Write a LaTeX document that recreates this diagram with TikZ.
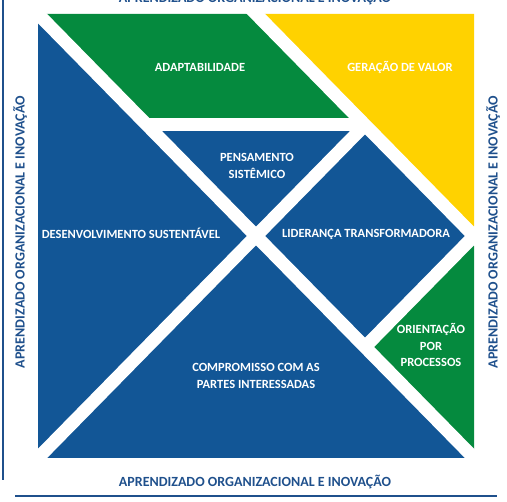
\documentclass[tikz,border=0pt]{standalone}
\usepackage{fontspec}
\setmainfont{Carlito}
\definecolor{fnqblue}{RGB}{18,86,150}
\definecolor{fnqgreen}{RGB}{5,138,62}
\definecolor{fnqyellow}{RGB}{255,210,0}
\definecolor{sideblue}{RGB}{31,80,140}

\begin{document}
\begin{tikzpicture}[x=1pt,y=1pt,
        cut/.style={white,line width=13pt},
        lbl/.style={white,align=center,font=\bfseries\fontsize{12.5}{16.5}\selectfont},
        side/.style={text=sideblue,font=\bfseries\fontsize{14}{16}\selectfont},
        frame/.style={sideblue,line width=1.2pt}]
            \useasboundingbox (0,0) rectangle (507,502);
            \begin{scope}[shift={(38,44)},x=109pt,y=111pt]
                \fill[fnqblue] (0,0) -- (0,4) -- (2,2) -- cycle;
                \fill[fnqblue] (0,0) -- (4,0) -- (2,2) -- cycle;
                \fill[fnqgreen] (0,4) -- (2,4) -- (3,3) -- (1,3) -- cycle;
                \fill[fnqyellow] (2,4) -- (4,4) -- (4,2) -- cycle;
                \fill[fnqblue] (1,3) -- (3,3) -- (2,2) -- cycle;
                \fill[fnqblue] (2,2) -- (3,3) -- (4,2) -- (3,1) -- cycle;
                \fill[fnqgreen] (4,2) -- (4,0) -- (3,1) -- cycle;

                \draw[cut,shorten <=-10pt,shorten >=-10pt] (0,4) -- (4,0);
                \draw[cut,shorten <=-10pt] (0,0) -- (3,3);
                \draw[cut,shorten <=-10pt,shorten >=-10pt] (2,4) -- (4,2);
                \draw[cut] (1,3) -- (3,3);
                \draw[cut,shorten >=-10pt] (3,1) -- (4,2);
            \end{scope}

            \node[lbl] (adapt) at (200,435) {ADAPTABILIDADE};
            \node[lbl] (valor) at (400,435) {GERAÇÃO DE VALOR};
            \node[lbl] (pensa) at (257,336) {PENSAMENTO\\SISTÊMICO};
            \node[lbl] (desenv) at (131,269) {DESENVOLVIMENTO SUSTENTÁVEL};
            \node[lbl] (lider) at (366,268) {LIDERANÇA TRANSFORMADORA};
            \node[lbl] (orient) at (431,157) {ORIENTAÇÃO\\POR\\PROCESSOS};
            \node[lbl] (compr) at (256,126) {COMPROMISSO COM AS\\PARTES INTERESSADAS};

            \node[side,anchor=base] (topo) at (255,499) {APRENDIZADO ORGANIZACIONAL E INOVAÇÃO};
            \node[side,anchor=base] (base) at (255,15) {APRENDIZADO ORGANIZACIONAL E INOVAÇÃO};
            \node[side,rotate=90] (esq) at (20,270) {APRENDIZADO ORGANIZACIONAL E INOVAÇÃO};
            \node[side,rotate=90] (dir) at (493,270) {APRENDIZADO ORGANIZACIONAL E INOVAÇÃO};

            \draw[frame] (3,502) -- (3,22);
            \draw[frame] (15,6) -- (497,6);
        \end{tikzpicture}
\end{document}
